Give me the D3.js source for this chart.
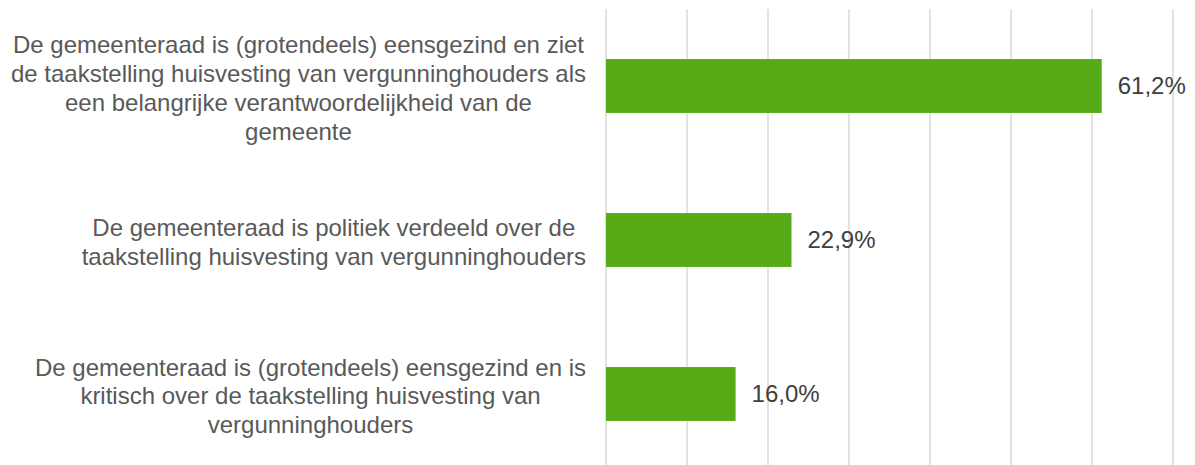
<!DOCTYPE html>
<html><head><meta charset="utf-8">
<script src="https://cdn.jsdelivr.net/npm/d3@7"></script>
<style>body{margin:0;background:#fff}svg{display:block}</style>
</head><body>
<svg id="c" width="1195" height="465"></svg>
<script>
const categories = [
  ["De gemeenteraad is (grotendeels) eensgezind en ziet","de taakstelling huisvesting van vergunninghouders als","een belangrijke verantwoordelijkheid van de","gemeente"],
  ["De gemeenteraad is politiek verdeeld over de","taakstelling huisvesting van vergunninghouders"],
  ["De gemeenteraad is (grotendeels) eensgezind en is","kritisch over de taakstelling huisvesting van","vergunninghouders"]
];
const values = [61.2, 22.9, 16.0];
const ticks = [0,10,20,30,40,50,60,70];

const svg = d3.select("#c");
const x = d3.scaleLinear().domain([0,70]).range([606,1173]);
const y = d3.scaleBand().domain(d3.range(categories.length)).range([9,471]).paddingInner(0.65).paddingOuter(0.325);
const font = "'Liberation Sans', Arial, sans-serif";
const fs = 24;

svg.append("g").selectAll("line").data(ticks).join("line")
  .attr("x1",d=>x(d)).attr("x2",d=>x(d)).attr("y1",9).attr("y2",465)
  .attr("stroke","#d9d9d9").attr("stroke-width",1.5);

svg.append("g").selectAll("rect").data(values).join("rect")
  .attr("x",x(0)).attr("y",(d,i)=>y(i)).attr("width",d=>x(d)-x(0)).attr("height",y.bandwidth())
  .attr("fill","#57ab17");

svg.append("g").selectAll("text").data(values).join("text")
  .attr("x",d=>x(d)+16).attr("y",(d,i)=>y(i)+y.bandwidth()/2).attr("dy","0.35em")
  .attr("font-family",font).attr("font-size",fs).attr("fill","#404040")
  .text(d=>d.toFixed(1).replace(".",",")+"%");

const lh = 28.8;
categories.forEach((lines,i)=>{
  const g = svg.append("g");
  const cy = y(i)+y.bandwidth()/2 + 2;
  const ts = g.selectAll("text").data(lines).join("text")
    .attr("font-family",font).attr("font-size",fs).attr("fill","#595959")
    .attr("text-anchor","middle")
    .attr("y",(d,j)=>cy+(j-(lines.length-1)/2)*lh).attr("dy","0.35em")
    .text(d=>d);
  let maxW = 0; ts.each(function(){maxW=Math.max(maxW,this.getComputedTextLength());});
  ts.attr("x",586-maxW/2);
});
</script>
</body></html>
